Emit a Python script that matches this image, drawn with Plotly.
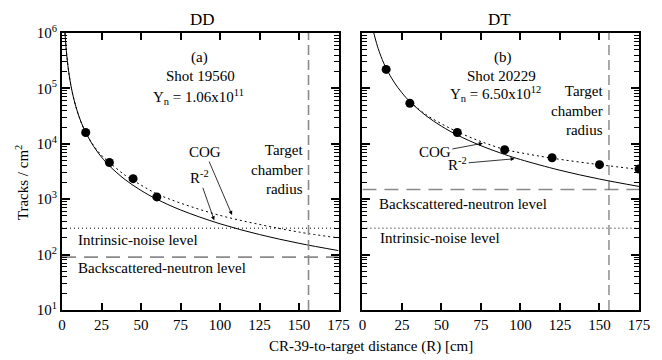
import plotly.graph_objects as go

# ---- DD shot 19560 ----
dd_r_pts = [15, 30, 45, 60]
dd_tracks_pts = [1.6e4, 4.6e3, 2.35e3, 1.1e3]

dd_r_curve = [1.9, 2.5, 3, 4, 5, 6, 7.5, 10, 12.5, 15, 20, 25, 30, 40, 50, 60, 75, 100, 125, 150, 175]
dd_r2_curve = [1.0e6, 5.76e5, 4.0e5, 2.25e5, 1.44e5, 1.0e5, 6.4e4, 3.6e4, 2.3e4, 1.6e4, 9.0e3,
               5.76e3, 4.0e3, 2.25e3, 1.44e3, 1.0e3, 640, 360, 230, 160, 118]
dd_cog_curve = [1.0e6, 5.76e5, 4.0e5, 2.25e5, 1.44e5, 1.0e5, 6.4e4, 3.6e4, 2.3e4, 1.6e4, 9.3e3,
                6.2e3, 4.6e3, 2.7e3, 1.8e3, 1.25e3, 850, 510, 350, 255, 200]
dd_noise_level = 300
dd_backscatter_level = 90

# ---- DT shot 20229 ----
dt_r_pts = [15, 30, 60, 90, 120, 150, 175]
dt_tracks_pts = [2.2e5, 5.4e4, 1.6e4, 7.8e3, 5.6e3, 4.2e3, 3.5e3]

dt_r_curve = [7.2, 8, 9, 10, 12.5, 15, 20, 25, 30, 40, 50, 60, 75, 90, 100, 125, 150, 175]
dt_r2_curve = [1.0e6, 8.13e5, 6.42e5, 5.2e5, 3.33e5, 2.31e5, 1.3e5, 8.32e4, 5.78e4, 3.25e4,
               2.08e4, 1.44e4, 9.24e3, 6.42e3, 5.2e3, 3.33e3, 2.31e3, 1.70e3]
dt_cog_r = [30, 40, 50, 60, 75, 90, 100, 120, 150, 175]
dt_cog_curve = [5.78e4, 3.4e4, 2.3e4, 1.65e4, 1.1e4, 7.9e3, 6.9e3, 5.5e3, 4.2e3, 3.45e3]
dt_noise_level = 300
dt_backscatter_level = 1.5e3

chamber_radius = 156
r_span = [0, 175]
y_span = [10, 1e6]

y_tickvals = [10, 100, 1e3, 1e4, 1e5, 1e6]
y_ticktext = ["10<sup>1</sup>", "10<sup>2</sup>", "10<sup>3</sup>", "10<sup>4</sup>",
              "10<sup>5</sup>", "10<sup>6</sup>"]
y_minor_tickvals = [m * 10 ** k for k in range(1, 6) for m in range(2, 10)]
x_tickvals = [0, 25, 50, 75, 100, 125, 150, 175]

FONT = "Liberation Serif, Times New Roman, serif"
FS = 15

fig = go.Figure()


def add_panel(xa, ya, r_curve, r2, cog_r, cog, r_pts, pts, noise, back, vcolor, vwidth):
    fig.add_trace(go.Scatter(x=r_curve, y=r2, mode="lines", xaxis=xa, yaxis=ya,
                             line=dict(color="black", width=1), line_shape="spline"))
    fig.add_trace(go.Scatter(x=cog_r, y=cog, mode="lines", xaxis=xa, yaxis=ya,
                             line=dict(color="black", width=1, dash="2px,3px"), line_shape="spline"))
    fig.add_trace(go.Scatter(x=r_span, y=[noise, noise], mode="lines", xaxis=xa, yaxis=ya,
                             line=dict(color="black", width=1, dash="1px,3px")))
    fig.add_trace(go.Scatter(x=r_span, y=[back, back], mode="lines", xaxis=xa, yaxis=ya,
                             line=dict(color="#8a8a8a", width=1.6, dash="14px,8px")))
    fig.add_trace(go.Scatter(x=[chamber_radius, chamber_radius], y=y_span, mode="lines",
                             xaxis=xa, yaxis=ya,
                             line=dict(color=vcolor, width=vwidth, dash="10px,5px")))
    fig.add_trace(go.Scatter(x=r_pts, y=pts, mode="markers", xaxis=xa, yaxis=ya,
                             marker=dict(color="black", size=9)))


add_panel("x", "y", dd_r_curve, dd_r2_curve, dd_r_curve, dd_cog_curve, dd_r_pts, dd_tracks_pts,
          dd_noise_level, dd_backscatter_level, "#8a8a8a", 1.6)
add_panel("x2", "y2", dt_r_curve, dt_r2_curve, dt_cog_r, dt_cog_curve, dt_r_pts, dt_tracks_pts,
          dt_noise_level, dt_backscatter_level, "#555555", 1)

xcommon = dict(range=r_span, tickmode="array", tickvals=x_tickvals, ticks="inside", ticklen=7,
               tickwidth=1.5, tickcolor="black", showline=True, linewidth=2, linecolor="black",
               mirror="allticks", showgrid=False, zeroline=False,
               tickfont=dict(family=FONT, size=FS, color="black"))
ycommon = dict(type="log", range=[1, 6], tickmode="array", tickvals=y_tickvals, ticks="inside",
               ticklen=8, tickwidth=1.5, tickcolor="black", showline=True, linewidth=2,
               linecolor="black", mirror="allticks", showgrid=False, zeroline=False,
               minor=dict(tickmode="array", tickvals=y_minor_tickvals, ticks="inside", ticklen=5,
                          tickwidth=1, tickcolor="black", showgrid=False),
               tickfont=dict(family=FONT, size=FS, color="black"))

fig.update_layout(
    width=662, height=360,
    margin=dict(l=62, r=20, t=33, b=50),
    paper_bgcolor="white", plot_bgcolor="white",
    showlegend=False,
    font=dict(family=FONT, size=FS, color="black"),
    xaxis=dict(xcommon, domain=[0, 0.4793], anchor="y"),
    yaxis=dict(ycommon, anchor="x", ticktext=y_ticktext),
    xaxis2=dict(xcommon, domain=[0.5207, 1], anchor="y2"),
    yaxis2=dict(ycommon, anchor="x2", showticklabels=False),
)

ann = []


def text(xref, yref, x, y, s, xanchor="center", size=FS, align="center", angle=0):
    ann.append(dict(xref=xref, yref=yref, x=x, y=y, text=s, showarrow=False,
                    xanchor=xanchor, yanchor="middle", align=align, textangle=angle,
                    font=dict(family=FONT, size=size, color="black")))


def arrow(xref, yref, x, y, s, ax, ay):
    ann.append(dict(xref=xref, yref=yref, x=x, y=y, text=s, showarrow=True,
                    ax=ax, ay=ay, arrowhead=2, arrowsize=1, arrowwidth=0.8,
                    arrowcolor="black", standoff=0,
                    font=dict(family=FONT, size=FS, color="black")))


# panel titles and axis titles
text("paper", "paper", 0.243, 1.047, "DD", size=17)
text("paper", "paper", 0.759, 1.047, "DT", size=17)
text("paper", "paper", -0.069, 0.462, "Tracks / cm<sup>2</sup>", angle=-90)
text("paper", "paper", 0.536, -0.13, "CR-39-to-target distance (R) [cm]")

# DD panel labels
text("x", "y", 86.9, 5.55, "(a)")
text("x", "y", 87.5, 5.22, "Shot 19560")
text("x", "y", 86.2, 4.845, "Y<sub>n</sub> = 1.06x10<sup>11</sup>")
text("x", "y", 153.6, 3.545, "Target<br>chamber<br>radius", xanchor="right", align="right")
text("x", "y", 8.8, 2.26, "Intrinsic-noise level", xanchor="left")
text("x", "y", 8.8, 1.76, "Backscattered-neutron level", xanchor="left")
arrow("x", "y", 107.6, 2.715, "COG", -27, -63)
arrow("x", "y", 96.3, 2.62, "R<sup>-2</sup>", -15, -43)

# DT panel labels
text("x2", "y2", 88.8, 5.55, "(b)")
text("x2", "y2", 88.1, 5.22, "Shot 20229")
text("x2", "y2", 84.4, 4.90, "Y<sub>n</sub> = 6.50x10<sup>12</sup>")
text("x2", "y2", 153.6, 4.61, "Target<br>chamber<br>radius", xanchor="right", align="right")
text("x2", "y2", 9.4, 2.91, "Backscattered-neutron level", xanchor="left")
text("x2", "y2", 10.1, 2.30, "Intrinsic-noise level", xanchor="left")
arrow("x2", "y2", 76.2, 4.01, "COG", -48, 9)
arrow("x2", "y2", 96.3, 3.73, "R<sup>-2</sup>", -57, 5)

fig.update_layout(annotations=ann)
fig.write_html("out.html")
